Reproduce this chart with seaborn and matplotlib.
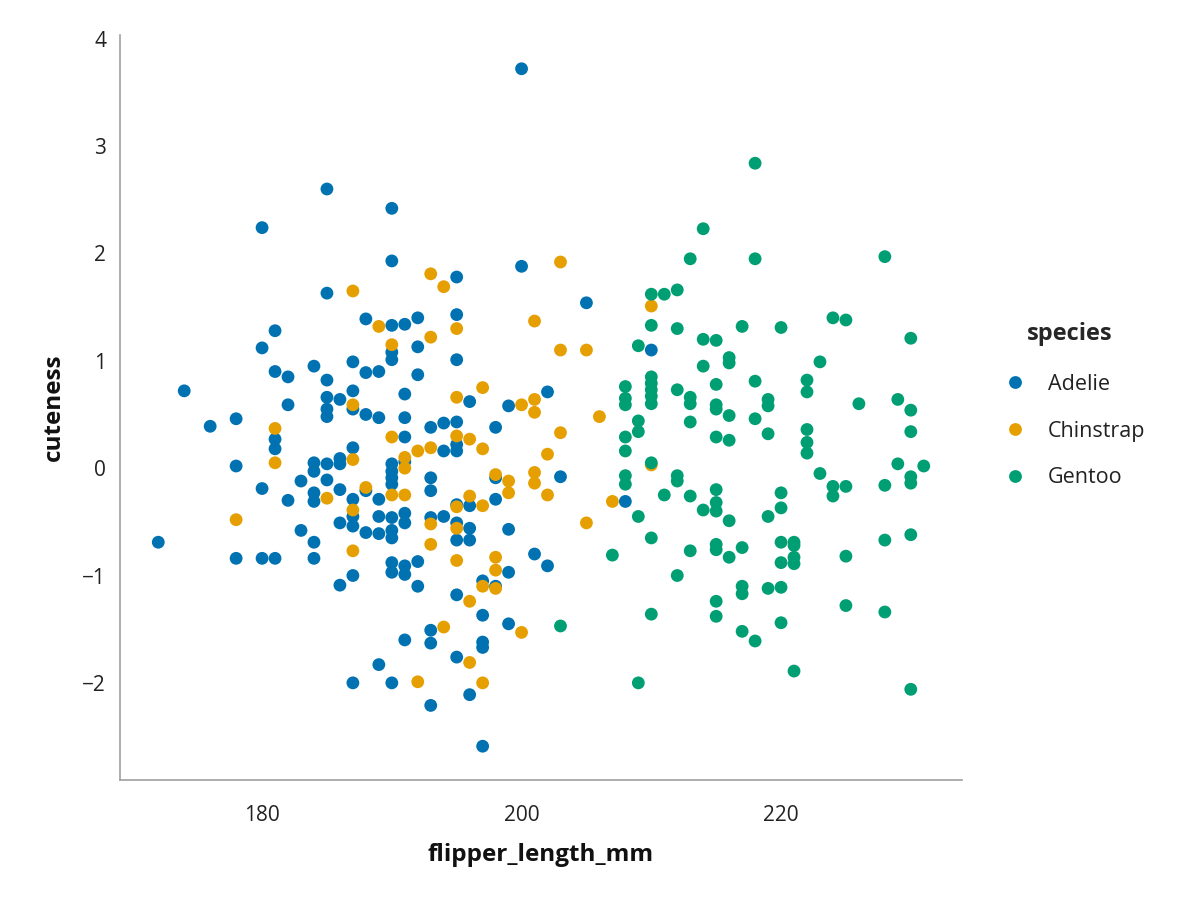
import matplotlib
matplotlib.use("Agg")
import matplotlib.pyplot as plt
import seaborn as sns
import pandas as pd

# cuteness values grouped by flipper length (mm)
adelie = {
    172: [-0.69], 174: [0.72], 176: [0.39], 178: [0.46, 0.02, -0.84],
    180: [2.24, 1.12, -0.19, -0.84], 181: [1.28, 0.90, 0.27, 0.18, -0.84],
    182: [0.85, 0.59, -0.30], 183: [-0.12, -0.58],
    184: [0.95, 0.05, -0.03, -0.23, -0.31, -0.69, -0.84],
    185: [2.60, 1.63, 0.82, 0.66, 0.55, 0.48, 0.04, -0.11],
    186: [0.64, 0.09, 0.04, -0.20, -0.51, -1.09],
    187: [0.99, 0.72, 0.55, 0.19, -0.29, -0.45, -0.54, -1.00, -2.00],
    188: [1.39, 0.89, 0.50, -0.21, -0.60],
    189: [0.90, 0.47, -0.29, -0.45, -0.61, -1.83],
    190: [2.42, 1.93, 1.33, 1.08, 1.01, 0.04, -0.03, -0.09, -0.15, -0.46,
          -0.58, -0.65, -0.88, -0.97, -2.00],
    191: [1.34, 0.69, 0.47, 0.29, 0.06, -0.42, -0.51, -0.91, -0.99, -1.60],
    192: [1.40, 1.13, 0.87, -0.87, -1.10],
    193: [0.38, -0.09, -0.21, -0.46, -1.51, -1.63, -2.21],
    194: [0.42, 0.16, -0.45],
    195: [1.78, 1.43, 1.01, 0.43, 0.22, 0.16, -0.34, -0.51, -0.67, -1.18, -1.76],
    196: [0.62, -0.35, -0.56, -0.67, -2.11],
    197: [-1.05, -1.37, -1.62, -1.67, -2.59],
    198: [0.38, -0.09, -0.29, -1.10],
    199: [0.58, -0.57, -0.97, -1.45],
    200: [3.72, 1.88], 201: [-0.80], 202: [0.71, -0.91], 203: [-0.08],
    205: [1.54], 208: [-0.31], 210: [1.10],
}

chinstrap = {
    178: [-0.48], 181: [0.37, 0.05], 185: [-0.28],
    187: [1.65, 0.59, 0.08, -0.39, -0.77], 188: [-0.18], 189: [1.32],
    190: [1.15, 0.29, -0.25], 191: [0.10, 0.00, -0.25], 192: [0.16, -1.99],
    193: [1.81, 1.22, 0.19, -0.52, -0.71], 194: [1.69, -1.48],
    195: [1.30, 0.66, 0.30, -0.36, -0.56, -0.86],
    196: [0.27, -0.26, -1.24, -1.81], 197: [0.75, 0.18, -0.35, -1.10, -2.00],
    198: [-0.06, -0.83, -0.95, -1.12], 199: [-0.12, -0.23], 200: [0.59, -1.53],
    201: [1.37, 0.64, 0.52, -0.04, -0.14], 202: [0.13, -0.25],
    203: [1.92, 1.10, 0.33], 205: [1.10, -0.51], 206: [0.48], 207: [-0.31],
    210: [1.51, 0.03],
}

gentoo = {
    203: [-1.47], 207: [-0.81],
    208: [0.76, 0.65, 0.59, 0.29, 0.16, -0.07, -0.15],
    209: [1.14, 0.44, 0.34, -0.45, -2.00],
    210: [1.62, 1.33, 0.85, 0.79, 0.73, 0.67, 0.60, 0.05, -0.65, -1.36],
    211: [1.62, -0.25], 212: [1.66, 1.30, 0.73, -0.07, -0.12, -1.00],
    213: [1.95, 0.66, 0.60, 0.43, -0.26, -0.77], 214: [2.23, 1.20, 0.95, -0.39],
    215: [1.19, 0.78, 0.59, 0.55, 0.29, -0.20, -0.32, -0.40, -0.71, -0.76,
          -1.24, -1.38],
    216: [1.03, 0.98, 0.49, 0.26, -0.49, -0.83],
    217: [1.32, -0.74, -1.10, -1.17, -1.52], 218: [2.84, 1.95, 0.81, 0.46, -1.61],
    219: [0.64, 0.58, 0.32, -0.45, -1.12],
    220: [1.31, -0.23, -0.37, -0.69, -0.88, -1.11, -1.44],
    221: [-0.69, -0.72, -0.83, -0.89, -1.89], 222: [0.82, 0.71, 0.36, 0.24, 0.14],
    223: [0.99, -0.05], 224: [1.40, -0.17, -0.26], 225: [1.38, -0.17, -0.82, -1.28],
    226: [0.60], 228: [1.97, -0.16, -0.67, -1.34], 229: [0.64, 0.04],
    230: [1.21, 0.54, 0.34, -0.08, -0.14, -0.62, -2.06], 231: [0.02],
}

species_names = ["Adelie", "Chinstrap", "Gentoo"]
palette = ["#0072B2", "#E69F00", "#009E73"]

rows = []
for name, groups in zip(species_names, [adelie, chinstrap, gentoo]):
    for flipper, values in groups.items():
        for v in values:
            rows.append([name, flipper, v])
df = pd.DataFrame(rows, columns=["species", "flipper_length_mm", "cuteness"])

sns.set_style("white")
plt.rcParams["font.family"] = ["Open Sans", "DejaVu Sans"]

fig = plt.figure(figsize=(12, 9), dpi=100)
ax = fig.add_axes([0.1, 0.1333, 0.7017, 0.828])

sns.scatterplot(data=df, x="flipper_length_mm", y="cuteness", hue="species",
                hue_order=species_names, palette=palette, s=85,
                linewidth=0, ax=ax)

ax.set_xlim(169.05, 233.95)
ax.set_ylim(-2.905, 4.036)
ax.set_xticks([180, 200, 220])
ax.set_yticks([-2, -1, 0, 1, 2, 3, 4])
sns.despine(ax=ax)
for side in ["left", "bottom"]:
    ax.spines[side].set_color("#a0a0a0")
    ax.spines[side].set_linewidth(1.2)
ax.tick_params(axis="both", direction="out", length=6, width=1.2,
               color="#a0a0a0", labelsize=15, labelcolor="#222222")
ax.tick_params(axis="x", pad=12)
ax.tick_params(axis="y", pad=4)

ax.set_xlabel("flipper_length_mm", fontsize=17.5, fontweight="bold",
              labelpad=12, color="#111111")
ax.set_ylabel("cuteness", fontsize=17.5, fontweight="bold",
              labelpad=12, color="#111111")

sns.move_legend(ax, "center left", bbox_to_anchor=(1.014, 0.503),
                frameon=False, title="species", fontsize=15.5,
                title_fontproperties={"weight": "bold", "size": 17},
                markerscale=1.0, labelspacing=1.2, handletextpad=0.55)
leg = ax.get_legend()
leg._legend_box.sep = 20
for t in leg.get_texts():
    t.set_color("#222222")

fig.savefig("out.png", dpi=100)
